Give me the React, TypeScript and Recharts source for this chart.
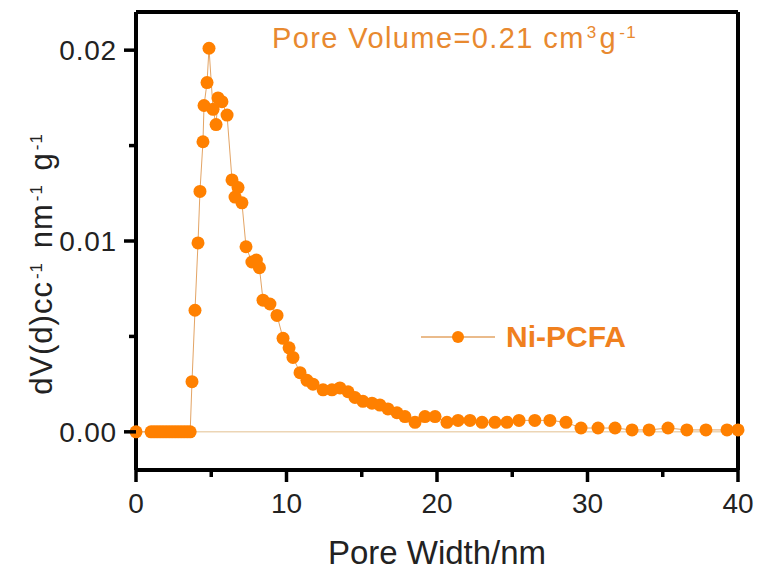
import React from "react";
import {
  LineChart,
  Line,
  XAxis,
  YAxis,
  ReferenceLine
} from "recharts";

// pore width (nm) and dV/d values
const poreWidth = [
  0, 1.0, 1.2, 1.4, 1.6, 1.8, 2.0, 2.2, 2.4, 2.6, 2.8, 3.0, 3.2, 3.4, 3.6,
  3.72, 3.92, 4.12, 4.25, 4.45, 4.52, 4.72, 4.85, 5.12, 5.32, 5.45, 5.71, 6.05,
  6.38, 6.58, 6.78, 7.04, 7.31, 7.7, 8.0, 8.2, 8.44, 8.9, 9.37, 9.77, 10.17,
  10.43, 10.9, 11.36, 11.76, 12.43, 13.02, 13.55, 14.09, 14.55, 15.08, 15.68,
  16.21, 16.74, 17.34, 17.87, 18.54, 19.2, 19.87, 20.66, 21.4, 22.19, 22.99,
  23.85, 24.65, 25.45, 26.5, 27.5, 28.57, 29.57, 30.7, 31.83, 32.96, 34.09,
  35.35, 36.6, 37.87, 39.27, 40
];
const dvValues = [
  0, 0, 0, 0, 0, 0, 0, 0, 0, 0, 0, 0, 0, 0, 0,
  0.00263, 0.00637, 0.0099, 0.0126, 0.0152, 0.0171, 0.0183, 0.0201, 0.0169,
  0.0161, 0.0175, 0.0173, 0.0166, 0.0132, 0.0123, 0.0128, 0.012, 0.0097,
  0.0089, 0.009, 0.0086, 0.0069, 0.0067, 0.0061, 0.0049, 0.0044, 0.0039,
  0.0031, 0.0027, 0.0025, 0.0022, 0.0022, 0.0023, 0.0021, 0.0018, 0.0016,
  0.0015, 0.0014, 0.0012, 0.001, 0.0008, 0.0005, 0.0008, 0.0008, 0.0005,
  0.0006, 0.0006, 0.0005, 0.0005, 0.0005, 0.0006, 0.0006, 0.0006, 0.0005,
  0.0002, 0.0002, 0.0002, 0.0001, 0.0001, 0.0002, 0.0001, 0.0001, 0.0001,
  0.0001
];
const xTicks = [0, 5, 10, 15, 20, 25, 30, 35, 40];
const yTicks = [0, 0.005, 0.01, 0.015, 0.02];

const data = poreWidth.map((w, i) => ({ w, dv: dvValues[i] }));

const ORANGE = "#FF8000";
const TEXT_ORANGE = "#E8892F";
const FONT = "'Liberation Sans', Arial, sans-serif";

const XTick = (props: any) => {
  const { x, y, payload } = props;
  const major = payload.value % 10 === 0;
  return (
    <g>
      <line x1={x} x2={x} y1={y} y2={y + (major ? 12 : 7)} stroke="#000" strokeWidth={3.5} />
      {major && (
        <text x={x} y={y + 43} textAnchor="middle" fontSize={28} fill="#222" fontFamily={FONT}>
          {payload.value}
        </text>
      )}
    </g>
  );
};

const YTick = (props: any) => {
  const { x, y, payload } = props;
  const v = payload.value;
  const major = Math.round(v * 1000) % 10 === 0;
  return (
    <g>
      <line x1={x} x2={x - (major ? 12 : 7)} y1={y} y2={y} stroke="#000" strokeWidth={3.5} />
      {major && (
        <text x={x - 19} y={y + 10} textAnchor="end" fontSize={28} letterSpacing={0.8} fill="#222" fontFamily={FONT}>
          {v.toFixed(2)}
        </text>
      )}
    </g>
  );
};

const sup = { fontSize: 17, verticalAlign: "0.6em", lineHeight: 0, marginLeft: 2, marginRight: 4 } as const;

export default function App() {
  return (
    <div style={{ position: "absolute", left: 0, top: 0, width: 758, height: 572, background: "#fff", fontFamily: FONT }}>
      <LineChart
        width={758}
        height={572}
        data={data}
        margin={{ top: 12, right: 20, left: 0, bottom: 0 }}
      >
        <XAxis
          dataKey="w"
          type="number"
          domain={[0, 40]}
          ticks={xTicks}
          interval={0}
          tickLine={false}
          tickSize={0}
          tickMargin={0}
          tick={<XTick />}
          axisLine={false}
          height={102}
        />
        <YAxis
          type="number"
          domain={[-0.002, 0.022]}
          ticks={yTicks}
          interval={0}
          tickLine={false}
          tickSize={0}
          tickMargin={0}
          tick={<YTick />}
          axisLine={false}
          width={136}
        />
        <ReferenceLine y={0} stroke="#ECD5B5" strokeWidth={1.5} />
        <Line
          dataKey="dv"
          stroke="#E3A465"
          strokeWidth={1}
          dot={{ r: 6.5, fill: ORANGE, stroke: ORANGE, strokeWidth: 0 }}
          isAnimationActive={false}
        />
        {/* frame */}
        <ReferenceLine y={0.022} stroke="#000" strokeWidth={4} />
        <ReferenceLine y={-0.002} stroke="#000" strokeWidth={4} />
        <ReferenceLine x={0} stroke="#000" strokeWidth={4} />
        <ReferenceLine x={40} stroke="#000" strokeWidth={4} />
      </LineChart>

      {/* annotation */}
      <div style={{ position: "absolute", left: 272, top: 22, fontSize: 29, letterSpacing: 1.4, color: TEXT_ORANGE, whiteSpace: "nowrap" }}>
        Pore Volume=0.21 cm<span style={{ ...sup, marginRight: 2 }}>3</span>g<span style={sup}>-1</span>
      </div>

      {/* legend */}
      <div style={{ position: "absolute", left: 421, top: 322, height: 30, display: "flex", alignItems: "center", whiteSpace: "nowrap" }}>
        <svg width={74} height={30}>
          <line x1={0} x2={74} y1={15} y2={15} stroke="#E3A465" strokeWidth={1.5} />
          <circle cx={37} cy={15} r={6} fill={ORANGE} />
        </svg>
        <span style={{ marginLeft: 11, fontSize: 30, fontWeight: "bold", color: "#F0801E" }}>Ni-PCFA</span>
      </div>

      {/* axis titles */}
      <div style={{ position: "absolute", left: 437, top: 534, transform: "translateX(-50%)", fontSize: 33, color: "#222", whiteSpace: "nowrap" }}>
        Pore Width/nm
      </div>
      <div
        style={{
          position: "absolute",
          left: 42,
          top: 262,
          transform: "translate(-50%, -50%) rotate(-90deg)",
          fontSize: 31,
          letterSpacing: 1,
          color: "#222",
          whiteSpace: "nowrap"
        }}
      >
        dV(d)cc<span style={sup}>-1</span> nm<span style={sup}>-1</span> g<span style={sup}>-1</span>
      </div>
    </div>
  );
}
